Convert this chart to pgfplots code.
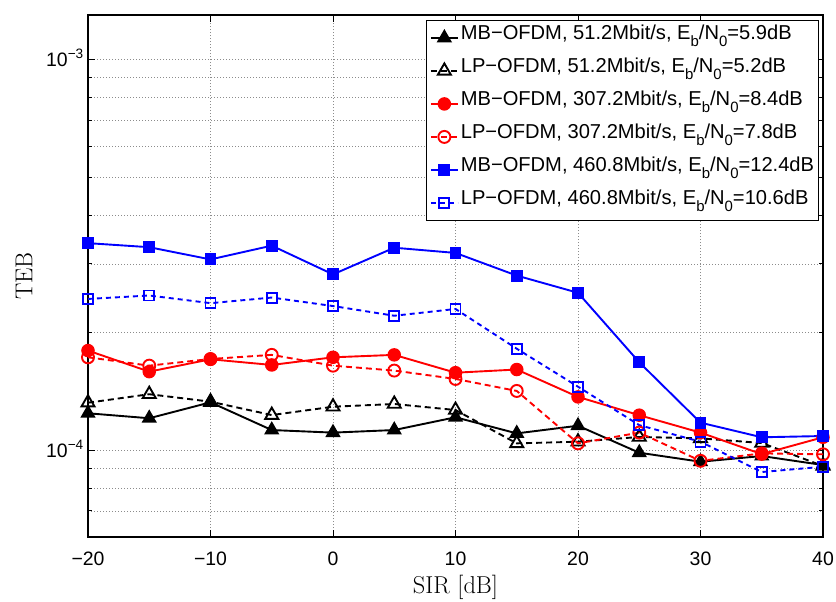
\documentclass[border=0pt]{standalone}
\usepackage{fontspec}
\usepackage{pgfplots}
\pgfplotsset{compat=1.18}
\newfontfamily\arial{Liberation Sans}
\newcommand\sub[1]{\raisebox{-7.5bp}{\fontsize{15}{15}\selectfont #1}}
\definecolor{mblue}{rgb}{0,0,1}
\definecolor{mred}{rgb}{1,0,0}
\begin{document}
\begin{tikzpicture}
\begin{axis}[
  scale only axis, width=735bp, height=522bp,
  ymode=log, xmin=-20, xmax=40, ymin=6e-5, ymax=1.3e-3,
  xtick={-20,-10,...,40}, xticklabels={−20,−10,0,10,20,30,40},
  ytick={1e-4,1e-3}, yticklabels={10\textsuperscript{−4},10\textsuperscript{−3}},
  minor ytick={7e-5,8e-5,9e-5,2e-4,3e-4,4e-4,5e-4,6e-4,7e-4,8e-4,9e-4},
  xmajorgrids, ymajorgrids, yminorgrids,
  major grid style={line width=0.6bp, black!45, dash pattern=on 0.7bp off 2.3bp},
  minor grid style={line width=0.6bp, black!45, dash pattern=on 0.7bp off 2.3bp},
  tick align=inside, tick pos=both,
  major tick length=7bp, minor tick length=4bp,
  every tick/.style={black, line width=0.8bp},
  axis line style={line width=1.1bp},
  ticklabel style={font=\arial\fontsize{19.5}{22}\selectfont, inner sep=0pt},
  xticklabel style={anchor=base, yshift=-28bp},
  yticklabel style={anchor=base east, xshift=-4bp, yshift=-6.7bp},
  xlabel={SIR [dB]}, ylabel={TEB},
  every axis x label/.style={at={(axis description cs:0.5,0)}, anchor=base, yshift=-56bp, font=\fontsize{24.5}{28}\selectfont},
  every axis y label/.style={at={(axis description cs:0,0.5)}, xshift=-64bp, rotate=90, anchor=center, font=\fontsize{24.5}{28}\selectfont},
  legend cell align=left,
  legend image code/.code={\draw[mark repeat=2,mark phase=2] plot coordinates {(0bp,0bp) (13.5bp,0bp) (27bp,0bp)};},
  legend style={at={(1,1)}, anchor=north east, xshift=-4.5bp, yshift=-5bp,
    draw=black, line width=0.8bp, inner xsep=4bp, inner ysep=4bp,
    font=\arial\fontsize{20.2}{23}\selectfont,
    nodes={inner sep=0pt, text height=15bp, text depth=12bp},
    row sep=6bp, column sep=2bp},
  every axis plot/.append style={line width=1.9bp},
]
% MB-OFDM 51.2
\addplot[black, mark=triangle*, mark size=7bp, mark options={solid, fill=black}] coordinates {
(-20,1.244e-4) (-15,1.208e-4) (-10,1.327e-4) (-5,1.127e-4) (0,1.110e-4) (5,1.127e-4) (10,1.215e-4)
(15,1.105e-4) (20,1.156e-4) (25,0.986e-4) (30,0.935e-4) (35,0.967e-4) (40,0.917e-4)};
\addlegendentry{MB−OFDM, 51.2Mbit/s, E\sub{b}/N\sub{0}=5.9dB}
% LP-OFDM 51.2
\addplot[black, dash pattern=on 6bp off 4bp, mark=triangle, mark size=7.5bp, mark options={solid}] coordinates {
(-20,1.324e-4) (-15,1.392e-4) (-10,1.332e-4) (-5,1.231e-4) (0,1.293e-4) (5,1.314e-4) (10,1.268e-4)
(15,1.042e-4) (20,1.052e-4) (25,1.082e-4) (30,1.073e-4) (35,1.044e-4) (40,0.912e-4)};
\addlegendentry{LP−OFDM, 51.2Mbit/s, E\sub{b}/N\sub{0}=5.2dB}
% MB-OFDM 307.2
\addplot[mred, mark=*, mark size=5.8bp, mark options={solid, fill=mred}] coordinates {
(-20,1.80e-4) (-15,1.59e-4) (-10,1.71e-4) (-5,1.654e-4) (0,1.73e-4) (5,1.755e-4) (10,1.58e-4)
(15,1.61e-4) (20,1.37e-4) (25,1.23e-4) (30,1.11e-4) (35,0.978e-4) (40,1.08e-4)};
\addlegendentry{MB−OFDM, 307.2Mbit/s, E\sub{b}/N\sub{0}=8.4dB}
% LP-OFDM 307.2
\addplot[mred, dash pattern=on 6bp off 4bp, mark=o, mark size=6bp, mark options={solid}] coordinates {
(-20,1.73e-4) (-15,1.647e-4) (-10,1.713e-4) (-5,1.755e-4) (0,1.647e-4) (5,1.60e-4) (10,1.523e-4)
(15,1.419e-4) (20,1.042e-4) (25,1.11e-4) (30,0.94e-4) (35,0.982e-4) (40,0.977e-4)};
\addlegendentry{LP−OFDM, 307.2Mbit/s, E\sub{b}/N\sub{0}=7.8dB}
% MB-OFDM 460.8
\addplot[mblue, mark=square*, mark size=5bp, mark options={solid, fill=mblue}] coordinates {
(-20,3.39e-4) (-15,3.31e-4) (-10,3.08e-4) (-5,3.34e-4) (0,2.82e-4) (5,3.30e-4) (10,3.20e-4)
(15,2.80e-4) (20,2.53e-4) (25,1.68e-4) (30,1.177e-4) (35,1.08e-4) (40,1.088e-4)};
\addlegendentry{MB−OFDM, 460.8Mbit/s, E\sub{b}/N\sub{0}=12.4dB}
% LP-OFDM 460.8
\addplot[mblue, dash pattern=on 5bp off 4bp, mark=square, mark size=5bp, mark options={solid}] coordinates {
(-20,2.44e-4) (-15,2.49e-4) (-10,2.38e-4) (-5,2.46e-4) (0,2.34e-4) (5,2.21e-4) (10,2.30e-4)
(15,1.82e-4) (20,1.455e-4) (25,1.16e-4) (30,1.052e-4) (35,0.88e-4) (40,0.908e-4)};
\addlegendentry{LP−OFDM, 460.8Mbit/s, E\sub{b}/N\sub{0}=10.6dB}
\end{axis}
\pgfresetboundingbox
\path[use as bounding box] ([shift={(-88bp,-64bp)}]current axis.south west) rectangle ([shift={(13bp,15bp)}]current axis.north east);
\end{tikzpicture}
\end{document}
